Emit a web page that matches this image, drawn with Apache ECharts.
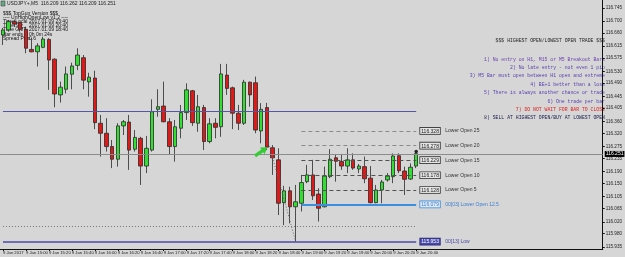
<!DOCTYPE html>
<html><head><meta charset="utf-8">
<script src="https://cdn.jsdelivr.net/npm/echarts@6/dist/echarts.min.js"></script>
<style>html,body{margin:0;padding:0;background:#d6d6d6;}#c{width:625px;height:257px;}</style>
</head><body><div id="c"></div>
<script>
// ---- data (USDJPY+, M5, 9 Jan 2017 14:40 .. 20:40) ----
const opens  = [116.653,116.670,116.698,116.695,116.672,116.604,116.596,116.611,116.638,116.571,
                116.450,116.469,116.520,116.550,116.576,116.494,116.507,116.354,116.320,116.275,
                116.232,116.345,116.358,116.266,116.303,116.209,116.263,116.401,116.412,116.359,
                116.275,116.337,116.390,116.464,116.354,116.407,116.292,116.354,116.342,116.517,
                116.474,116.388,116.354,116.493,116.491,116.328,116.407,116.271,116.230,116.085,
                116.125,116.071,116.083,116.156,116.179,116.114,116.071,116.173,116.237,116.224,
                116.209,116.230,116.199,116.207,116.168,116.085,116.128,116.162,116.173,116.244,
                116.192,116.165,116.209];
const highs  = [116.677,116.704,116.705,116.698,116.681,116.642,116.625,116.647,116.642,116.574,
                116.495,116.546,116.559,116.608,116.585,116.525,116.532,116.382,116.371,116.297,
                116.354,116.365,116.382,116.331,116.308,116.311,116.435,116.469,116.495,116.371,
                116.365,116.416,116.489,116.467,116.450,116.416,116.371,116.371,116.555,116.555,
                116.478,116.416,116.501,116.495,116.512,116.422,116.423,116.280,116.269,116.142,
                116.139,116.145,116.179,116.213,116.230,116.134,116.207,116.266,116.247,116.250,
                116.269,116.252,116.216,116.241,116.209,116.145,116.162,116.185,116.252,116.252,
                116.207,116.218,116.262];
const lows   = [116.619,116.664,116.680,116.664,116.591,116.594,116.546,116.608,116.467,116.408,
                116.424,116.455,116.469,116.534,116.469,116.444,116.334,116.241,116.258,116.202,
                116.207,116.314,116.196,116.258,116.145,116.185,116.258,116.376,116.357,116.247,
                116.224,116.303,116.365,116.345,116.325,116.263,116.286,116.303,116.308,116.450,
                116.334,116.331,116.348,116.410,116.320,116.286,116.263,116.179,116.043,116.009,
                116.015,115.953,116.055,116.151,116.094,116.021,116.069,116.168,116.156,116.196,
                116.185,116.196,116.185,116.151,116.083,116.083,116.083,116.156,116.151,116.185,
                116.111,116.162,116.202];
const closes = [116.670,116.698,116.690,116.672,116.608,116.596,116.616,116.639,116.568,116.453,
                116.476,116.521,116.548,116.585,116.500,116.510,116.356,116.320,116.275,116.232,
                116.345,116.359,116.263,116.306,116.209,116.269,116.393,116.410,116.359,116.275,
                116.342,116.390,116.467,116.356,116.410,116.292,116.352,116.340,116.521,116.472,
                116.388,116.354,116.493,116.450,116.331,116.401,116.273,116.237,116.083,116.125,
                116.071,116.088,116.153,116.179,116.108,116.066,116.175,116.232,116.225,116.209,
                116.230,116.202,116.209,116.166,116.085,116.128,116.155,116.175,116.243,116.193,
                116.164,116.205,116.251];
const xTickLabels = ["9 Jan 2017","9 Jan 15:00","9 Jan 15:20","9 Jan 15:40","9 Jan 16:00","9 Jan 16:20",
                     "9 Jan 16:40","9 Jan 17:00","9 Jan 17:20","9 Jan 17:40","9 Jan 18:00","9 Jan 18:20",
                     "9 Jan 18:40","9 Jan 19:00","9 Jan 19:20","9 Jan 19:40","9 Jan 20:00","9 Jan 20:20","9 Jan 20:40"];
const yTickLabels = ["115.935","115.980","116.020","116.065","116.105","116.150","116.190","116.235","116.275","116.320",
                     "116.360","116.405","116.445","116.490","116.530","116.575","116.615","116.660","116.700","116.745"];
// horizontal levels
const bidPrice = 116.251;
const blueLevel = 116.396;
const lowLevel = 115.953;
const weekLevel = 116.006;
const lowerOpenBase = 116.079;
const lowerOpenLevels = [116.328,116.278,116.229,116.178,116.128];
const lowerOpenNames  = ["Lower Open 25","Lower Open 20","Lower Open 15","Lower Open 10","Lower Open 5"];
const rules = [
  ["$$$ HIGHEST OPEN/LOWEST OPEN TRADE $$$", "#222222"],
  ["", "#000"],
  ["1) No entry on H1, M15 or M5 Breakout Bars", "#6a3fb0"],
  ["2) No late entry - not even 1 pip", "#5a40b0"],
  ["3) M5 Bar must open between H1 open and extreme", "#5a40b0"],
  ["4) BE+1 better than a loss", "#5a40b0"],
  ["5) There is always another chance or trade", "#5a40b0"],
  ["6) One trade per bar", "#5a40b0"],
  ["7) DO NOT WAIT FOR BAR TO CLOSE", "#e02020"],
  ["8) SELL AT HIGHEST OPEN/BUY AT LOWEST OPEN", "#202050"]
];
const infoRows = [["Time Local","2017.01.09 23:40"],["Time Srv","2017.01.09 20:40"],["Time GMT","2017.01.09 18:40"],["Bar ends in","0h 0m 24s"],["Spread Pips","0.6"]];

// ---- build ----
const NSLOTS = 105;
const cats = [];
for (let i = 0; i < NSLOTS; i++) { const m = 14*60+40+5*i; cats.push(String(Math.floor(m/60)%24).padStart(2,'0')+':'+String(m%60).padStart(2,'0')); }
const ohlc = opens.map((o,i)=>[o, closes[i], lows[i], highs[i]]);
const last = opens.length - 1;
const loStart = 52;

const FS = 5;
const chart = echarts.init(document.getElementById('c'), null, {renderer:'canvas'});
const mono = 'Liberation Mono';
const sans = 'Liberation Sans';

const markLines = [];
lowerOpenLevels.forEach((p,k)=>{
  markLines.push([{coord:[loStart,p], lineStyle:{color:k<2?'#8a8a8a':'#505050', type:[4,3], width:1},
    label:{show:true, position:'end', distance:4, formatter:'{b|'+p.toFixed(3)+'} {t|'+lowerOpenNames[k]+'}',
      rich:{b:{fontSize:FS, fontFamily:sans, color:'#222', backgroundColor:'#e4e4e4', borderColor:'#333', borderWidth:0.8, padding:[1,1,0,1]},
            t:{fontSize:FS, fontFamily:sans, color:'#333', padding:[0,0,0,2]}}}},
    {coord:[last,p]}]);
});
markLines.push([{coord:[loStart,lowerOpenBase], lineStyle:{color:'#3d8fe0', type:'solid', width:2},
  label:{show:true, position:'end', distance:4, formatter:'{b|'+lowerOpenBase.toFixed(3)+'} {t|00[03] Lower Open 12.5}',
    rich:{b:{fontSize:FS, fontFamily:sans, color:'#3d7fd0', backgroundColor:'#dfe8f4', borderColor:'#3d8fe0', borderWidth:0.8, padding:[1,1,0,1]},
          t:{fontSize:FS, fontFamily:sans, color:'#3d7fd0', padding:[0,0,0,2]}}}},
  {coord:[last,lowerOpenBase]}]);
markLines.push([{coord:[0,blueLevel], lineStyle:{color:'#5656a8', type:'solid', width:1}, label:{show:false}},{coord:[last,blueLevel]}]);
markLines.push([{coord:[0,weekLevel], lineStyle:{color:'#777', type:[1,2], width:1}, label:{show:false}},{coord:[last,weekLevel]}]);
markLines.push([{coord:[0,lowLevel], lineStyle:{color:'#4a4aa8', type:'solid', width:1.5},
  label:{show:true, position:'end', distance:4, formatter:'{b|'+lowLevel.toFixed(3)+'} {t|00[13] Low}',
    rich:{b:{fontSize:FS, fontFamily:sans, color:'#fff', backgroundColor:'#4a4aa8', borderColor:'#2a2a80', borderWidth:0.8, padding:[1,1,0,1]},
          t:{fontSize:FS, fontFamily:sans, color:'#4a4aa8', padding:[0,0,0,2]}}}},
  {coord:[last,lowLevel]}]);
markLines.push([{coord:[46,116.307], lineStyle:{color:'#666', type:[1,2], width:1}, label:{show:false}},{coord:[51,lowLevel]}]);
markLines.push({yAxis:bidPrice, lineStyle:{color:'#8c8c8c', type:'solid', width:1},
  label:{show:true, position:'end', distance:2, formatter:bidPrice.toFixed(3), fontSize:FS, fontFamily:sans, color:'#fff', backgroundColor:'#000', padding:[1,1,0,1]}});

const graphics = [];
graphics.push({type:'text', left:7, top:1, style:{text:'USDJPY+,M5  116.209 116.262 116.209 116.251', font:FS+'px '+sans, fill:'#222'}});
graphics.push({type:'rect', shape:{x:1,y:1,width:4,height:5}, style:{fill:'#6a8', stroke:'#333', lineWidth:0.5}});
graphics.push({type:'text', left:3, top:11, style:{text:'$$$ TopGun Version $$$', font:FS+'px '+sans, fill:'#111'}});
graphics.push({type:'text', left:3, top:15, style:{text:'---- UnHighOpenLow v1.2 ----', font:FS+'px '+sans, fill:'#111'}});
infoRows.forEach((r,k)=>{
  graphics.push({type:'text', left:3, top:19+k*4.3, style:{text:r[0], font:FS+'px '+sans, fill:'#111'}});
  graphics.push({type:'text', left:29, top:19+k*4.3, style:{text:r[1], font:FS+'px '+sans, fill:'#111'}});
});
rules.forEach((r,k)=>{
  if (!r[0]) return;
  const y = k===0 ? 41 : 59.3 + (k-2)*8.4;
  graphics.push({type:'text', x:605, y:y, style:{text:r[0], font:'4.8px '+mono, fill:r[1], textAlign:'right', textVerticalAlign:'middle'}});
});

chart.setOption({
  backgroundColor:'#d6d6d6',
  animation:false,
  grid:{left:-2, right:17, top:0, bottom:8},
  xAxis:{type:'category', data:cats, boundaryGap:true,
    axisLine:{lineStyle:{color:'#111', width:1}},
    axisTick:{show:true, alignWithLabel:true, length:2, lineStyle:{color:'#111'}, interval:(i)=>i%4===0 && i<=last},
    axisLabel:{interval:(i)=>i%4===0 && i<=last, formatter:(v,i)=>xTickLabels[i/4]||'', align:'left', margin:2, fontSize:4.2, fontFamily:sans, color:'#222'},
    splitLine:{show:false}},
  yAxis:{type:'value', position:'right', min:115.928, max:116.7714, scale:true,
    axisLine:{show:true, lineStyle:{color:'#111', width:1}},
    axisTick:{show:true, length:2, inside:false, lineStyle:{color:'#111'}, customValues:yTickLabels.map(Number)},
    axisLabel:{customValues:yTickLabels.map(Number), formatter:(v)=>{const s=yTickLabels.find(t=>Math.abs(Number(t)-v)<1e-6); return s||'';}, margin:3, fontSize:4.6, fontFamily:sans, color:'#222'},
    splitLine:{show:false}},
  graphic:graphics,
  series:[{
    type:'candlestick', data:ohlc, barWidth:4,
    itemStyle:{color:'#2fe02f', color0:'#e01818', borderColor:'#2a2a2a', borderColor0:'#2a2a2a', borderWidth:0.8},
    markLine:{symbol:['none','none'], silent:true, animation:false, data:markLines},
    markPoint:{silent:true, animation:false, data:[
      {coord:[45,116.258], symbol:'path://M0,3 L7,3 L7,0 L12,5 L7,10 L7,7 L0,7 Z', symbolSize:[15,8], symbolRotate:35, itemStyle:{color:'#33cc33'}, label:{show:false}},
      {coord:[last,116.258], symbol:'circle', symbolSize:3.5, itemStyle:{color:'#222'}, label:{show:false}},
      {coord:[38,weekLevel], symbol:'none', symbolSize:0, label:{show:true, formatter:'w01 · 116.01', fontSize:FS, fontFamily:sans, color:'#333', offset:[0,1]}}
    ]}
  }]
});
</script></body></html>
